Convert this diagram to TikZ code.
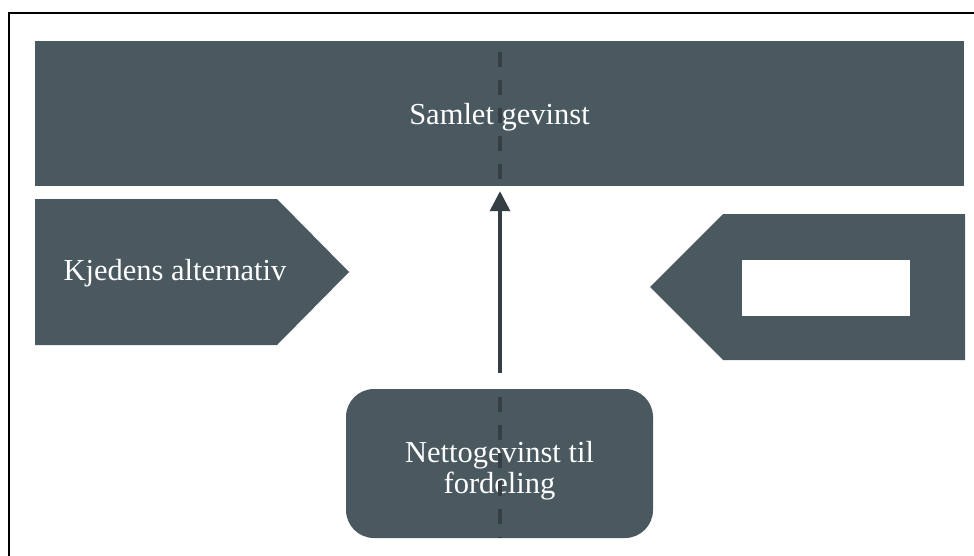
\documentclass[tikz,border=0pt]{standalone}
\usepackage{fontspec}
\setmainfont{Liberation Serif}
\usetikzlibrary{arrows.meta}
\definecolor{slate}{RGB}{74,89,96}
\definecolor{slatedark}{RGB}{52,62,67}
\tikzset{
  panel/.style={fill=slate, draw=none, inner sep=0pt},
  label/.style={text=white, font=\fontsize{30.5}{31}\selectfont, align=center, inner sep=0pt},
  axisdash/.style={draw=slatedark, line width=4pt, dash pattern=on 15pt off 13pt},
  flow/.style={draw=slatedark, line width=3.5pt, -{Triangle[length=20pt, width=20pt]}},
}
\begin{document}
\begin{tikzpicture}[x=1pt, y=-1pt]
  \clip (0,0) rectangle (974,555);
  \fill[white] (0,0) rectangle (974,555);
  % outer frame
  \draw[black, line width=1.5pt] (9,600) -- (9,13) -- (1000,13);

  % top bar
  \node[panel, minimum width=929pt, minimum height=145pt] (samlet) at (499.5,113.5) {};
  \node[label] (samlettxt) at (499.5,117) {Samlet gevinst};

  % left arrow-shaped panel
  \fill[slate] (35,199) -- (277,199) -- (349,272) -- (277,345) -- (35,345) -- cycle;
  \node[label] (kjede) at (175,273) {Kjedens alternativ};

  % right arrow-shaped panel with blank field
  \fill[slate] (965,214) -- (723,214) -- (650,287) -- (723,360) -- (965,360) -- cycle;
  \node[fill=white, minimum width=168pt, minimum height=56pt, inner sep=0pt] (blank) at (826,288) {};

  % bottom rounded box
  \node[panel, rounded corners=28pt, minimum width=307pt, minimum height=149pt] (netto) at (499.5,463.5) {};
  \node[label] (nettotxt) at (499.5,471) {Nettogevinst til\\fordeling};

  % dashed centre line through both boxes
  \draw[axisdash] (500,52) -- (samlet.south -| 500,0);
  \draw[axisdash] (500,397) -- (netto.south -| 500,0);

  % arrow up to the top bar
  \coordinate (arrowstart) at (500,373);
  \draw[flow] (arrowstart) -- ([yshift=-5pt]samlet.south -| arrowstart);
\end{tikzpicture}
\end{document}
